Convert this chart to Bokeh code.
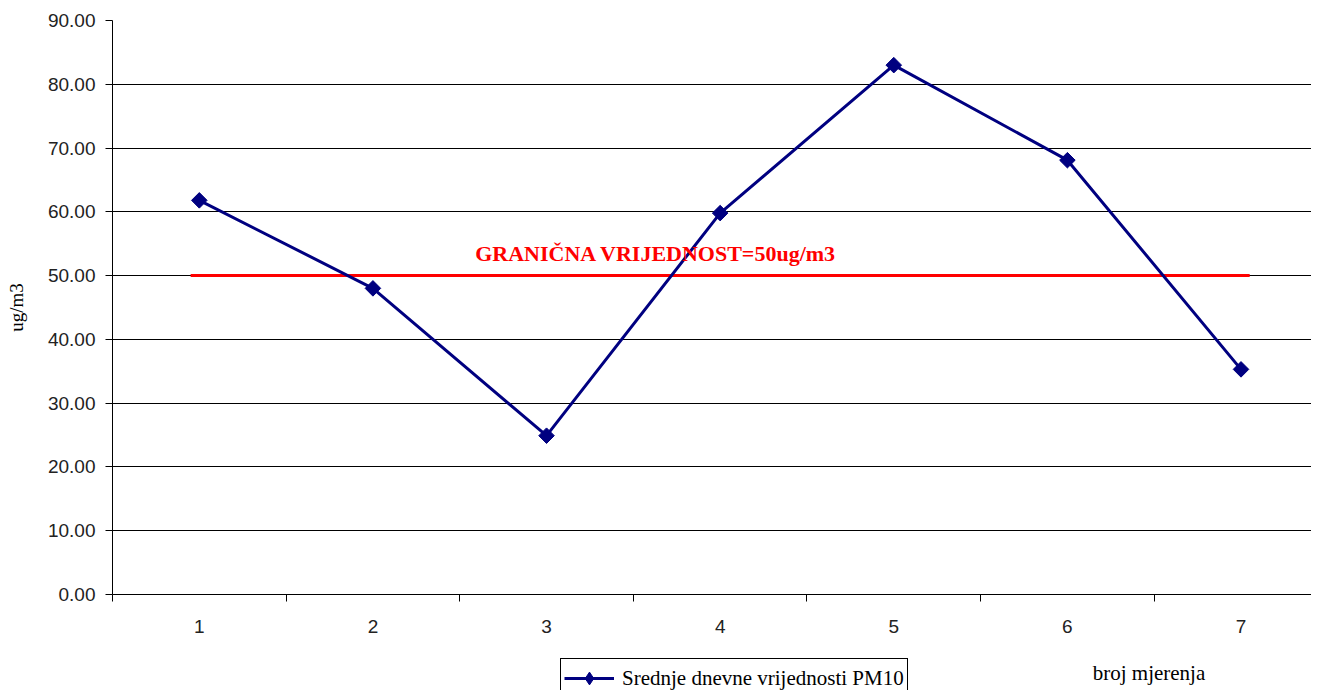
import numpy as np
from bokeh.plotting import figure
from bokeh.layouts import column
from bokeh.models import (FixedTicker, NumeralTickFormatter, Range1d, Legend,
                          LegendItem, Label)
from bokeh.embed import file_html
from bokeh.resources import INLINE

# ---- data ----
measurements = [1, 2, 3, 4, 5, 6, 7]
tick_labels = ["1", "2", "3", "4", "5", "6", "7"]
pm10 = [61.8, 48.0, 24.9, 59.8, 83.0, 68.1, 35.3]
limit_value = 50
limit_start = 0.95
limit_end = 7.05
limit_label_x = 3.63
limit_label_y = 53.5
y_ticks = [0, 10, 20, 30, 40, 50, 60, 70, 80, 90]
series_name = "Srednje dnevne vrijednosti PM10"
limit_text = "GRANIČNA VRIJEDNOST=50ug/m3"
y_title = "ug/m3"
x_title = "broj mjerenja"
x_title_pos = 6.47

NAVY = "#000080"
SANS = "Liberation Sans"
SERIF = "Liberation Serif"
W = 1311

xr = Range1d(0.5, 7.406)

p = figure(width=W, height=650, output_backend="svg", toolbar_location=None,
           x_range=xr, y_range=Range1d(0, 90),
           min_border_left=112, min_border_right=0, min_border_top=20,
           min_border_bottom=56)
p.outline_line_color = None

p.xgrid.visible = False
p.ygrid.grid_line_color = "black"
p.ygrid.grid_line_width = 1
p.ygrid.ticker = FixedTicker(ticks=y_ticks)

# x axis
xa = p.xaxis[0]
xa.ticker = FixedTicker(ticks=measurements,
                        minor_ticks=[m - 0.5 for m in measurements] + [measurements[-1] + 0.5])
xa.major_label_overrides = {m: t for m, t in zip(measurements, tick_labels)}
xa.major_tick_in = 0
xa.major_tick_out = 0
xa.minor_tick_in = 0
xa.minor_tick_out = 7
xa.minor_tick_line_color = "black"
xa.axis_line_color = "black"
xa.major_label_standoff = 18
xa.major_label_text_font = SANS
xa.major_label_text_font_size = "19px"
xa.major_label_text_color = "#222222"

# y axis
ya = p.yaxis[0]
ya.ticker = FixedTicker(ticks=y_ticks)
ya.formatter = NumeralTickFormatter(format="0.00")
ya.major_tick_in = 0
ya.major_tick_out = 7
ya.minor_tick_line_color = None
ya.axis_line_color = "black"
ya.major_tick_line_color = "black"
ya.major_label_standoff = 10
ya.major_label_text_font = SANS
ya.major_label_text_font_size = "19px"
ya.major_label_text_color = "#222222"
ya.axis_label = y_title
ya.axis_label_text_font = SERIF
ya.axis_label_text_font_size = "19px"
ya.axis_label_text_font_style = "normal"
ya.axis_label_text_color = "black"
ya.axis_label_standoff = 18

# limit line
p.line(x=[limit_start, limit_end], y=[limit_value, limit_value], line_color="red", line_width=3)
p.add_layout(Label(x=limit_label_x, y=limit_label_y,
                   text=limit_text, text_font=SERIF, text_font_style="bold",
                   text_font_size="22px", text_color="red",
                   text_align="center", text_baseline="middle"))

# series
p.line(x=measurements, y=pm10, line_color=NAVY, line_width=3)
p.scatter(x=measurements, y=pm10, marker="square", size=11, angle=np.pi / 4,
          fill_color=NAVY, line_color=NAVY)

# bottom strip: legend + x title (series proxies lie outside this strip's range)
p2 = figure(width=W, height=40, output_backend="svg", toolbar_location=None,
            x_range=xr, y_range=Range1d(0, 1),
            x_axis_location=None, y_axis_location=None,
            min_border_left=112, min_border_right=0, min_border_top=0,
            min_border_bottom=0)
p2.outline_line_color = None
p2.grid.visible = False

ln2 = p2.line(x=measurements, y=pm10, line_color=NAVY, line_width=3)
sc2 = p2.scatter(x=measurements, y=pm10, marker="diamond", size=15,
                 fill_color=NAVY, line_color=NAVY)

legend = Legend(items=[LegendItem(label=series_name, renderers=[ln2, sc2])],
                location=(448, -8), orientation="horizontal",
                border_line_color="black", border_line_width=1, border_line_alpha=1,
                label_text_font=SERIF, label_text_font_size="21px",
                label_text_color="black",
                glyph_width=50, glyph_height=32, padding=3, margin=0,
                label_standoff=8, background_fill_alpha=1)
p2.add_layout(legend, "center")

p2.add_layout(Label(x=x_title_pos, y=0.45, text=x_title, text_font=SERIF,
                    text_font_size="21px", text_color="black",
                    text_align="center", text_baseline="middle"))

layout = column(p, p2, spacing=0)
open("out.html", "w").write(file_html(layout, INLINE))
